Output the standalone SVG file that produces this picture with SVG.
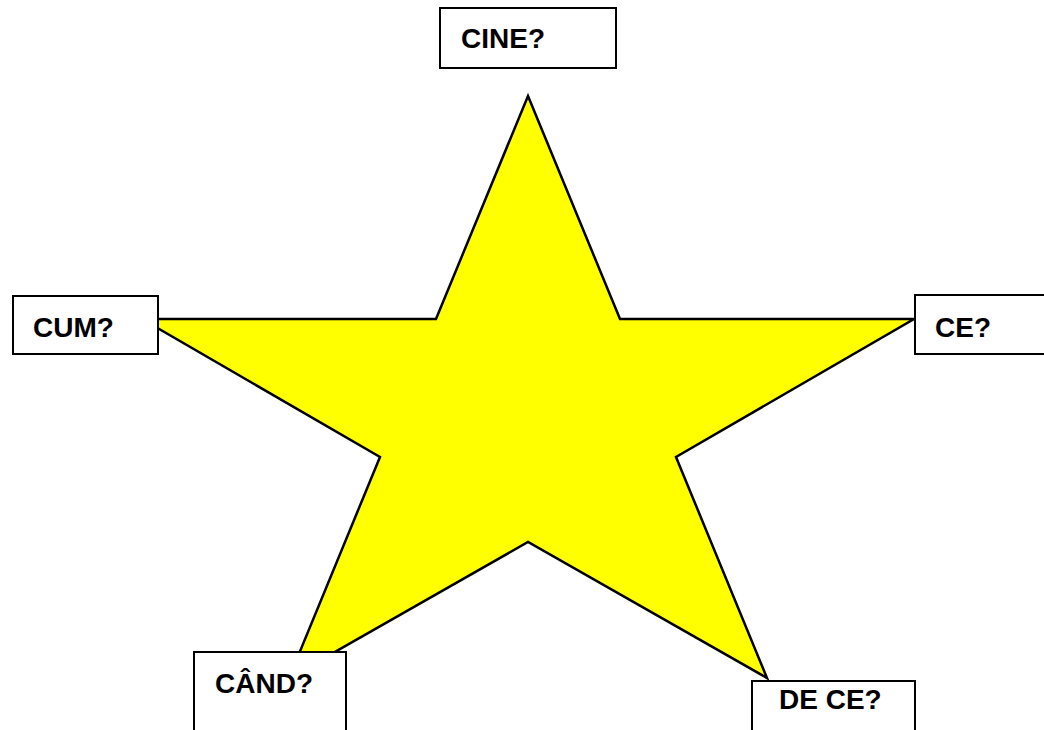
<svg xmlns="http://www.w3.org/2000/svg" width="1044" height="730" viewBox="0 0 1044 730">
<style>
.box{fill:#fff;stroke:#000;stroke-width:2}
.lbl{font-family:"Liberation Sans",Arial,sans-serif;font-weight:bold;font-size:28px;fill:#000}
.star{fill:#ffff00;stroke:#000;stroke-width:2.5;stroke-linejoin:miter}
</style>
<rect width="1044" height="730" fill="#fff"/>
<g id="star">
<polygon class="star" points="528,96 620,319 914,319 676,457 767,678 528,542 289,678 380,457 142,319 436,319"/>
</g>
<g id="cine"><rect class="box" x="440" y="8" width="176" height="60"/><text class="lbl" x="461" y="48">CINE?</text></g>
<g id="cum"><rect class="box" x="13" y="296" width="145" height="58"/><text class="lbl" x="33" y="337">CUM?</text></g>
<g id="ce"><rect class="box" x="915" y="295" width="140" height="59"/><text class="lbl" x="935" y="337">CE?</text></g>
<g id="cand"><rect class="box" x="194" y="652" width="152" height="90"/><text class="lbl" x="215" y="693">CÂND?</text></g>
<g id="dece"><rect class="box" x="752" y="681" width="163" height="60"/><text class="lbl" x="779" y="709">DE CE?</text></g>
</svg>
